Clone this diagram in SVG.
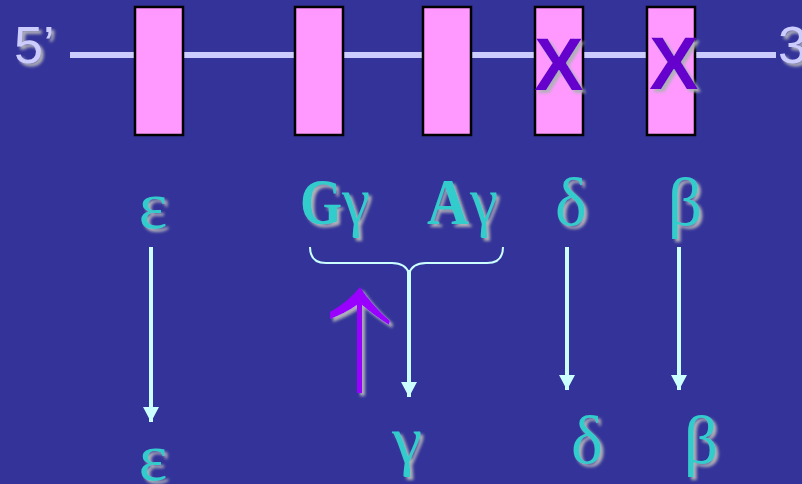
<svg xmlns="http://www.w3.org/2000/svg" width="802" height="484" viewBox="0 0 802 484">
<defs>
<filter id="sh" x="-20%" y="-20%" width="150%" height="150%">
<feGaussianBlur in="SourceAlpha" stdDeviation="1.5" result="b"/>
<feOffset in="b" dx="3" dy="3" result="o"/>
<feFlood flood-color="#b0b0b8"/>
<feComposite in2="o" operator="in" result="s"/>
<feMerge><feMergeNode in="s"/><feMergeNode in="SourceGraphic"/></feMerge>
</filter>
<marker id="ah" markerWidth="16" markerHeight="16" viewBox="0 0 16 16" refX="15" refY="8" orient="auto" markerUnits="userSpaceOnUse">
<path d="M0,0 L15,8 L0,16 Z" fill="#ccffff"/>
</marker>
<style>
.exon{fill:#ff99ff;stroke:#000;stroke-width:2.5}
.end{font-family:"Liberation Sans",Arial,sans-serif;font-size:52px;fill:#ccccff}
.x{font-family:"Liberation Sans",Arial,sans-serif;font-size:74px;font-weight:bold;fill:#6600cc}
.gr{font-family:"Liberation Serif","Times New Roman",serif;font-size:68px;fill:#33cccc}
.cap{font-weight:bold;font-size:65px}
.conn{stroke:#ccffff;stroke-width:4;fill:none}
</style>
</defs>
<rect width="802" height="484" fill="#333399"/>
<g id="dna">
<line x1="70" y1="55" x2="776" y2="55" stroke="#ccccff" stroke-width="6"/>
<text class="end" x="14" y="63" filter="url(#sh)">5’</text>
<text class="end" x="778" y="63" filter="url(#sh)">3’</text>
</g>
<g id="exon-epsilon"><rect class="exon" x="135" y="7" width="48" height="128"/></g>
<g id="exon-Ggamma"><rect class="exon" x="295" y="7" width="48" height="128"/></g>
<g id="exon-Agamma"><rect class="exon" x="423" y="7" width="48" height="128"/></g>
<g id="exon-delta"><rect class="exon" x="535" y="7" width="48" height="128"/>
<text class="x" x="559" y="90" text-anchor="middle" filter="url(#sh)">X</text></g>
<g id="exon-beta"><rect class="exon" x="647" y="7" width="48" height="128"/>
<text class="x" x="674" y="89" text-anchor="middle" filter="url(#sh)">X</text></g>
<g id="labels-top" filter="url(#sh)">
<text class="gr" x="153" y="228" text-anchor="middle">ε</text>
<text class="gr cap" x="300" y="224" textLength="42" lengthAdjust="spacingAndGlyphs">G</text>
<text class="gr" x="342" y="224" font-size="64" textLength="28" lengthAdjust="spacingAndGlyphs">γ</text>
<text class="gr cap" x="427" y="224" textLength="42" lengthAdjust="spacingAndGlyphs">A</text>
<text class="gr" x="470" y="224" font-size="64" textLength="28" lengthAdjust="spacingAndGlyphs">γ</text>
<text class="gr" x="571" y="225" text-anchor="middle">δ</text>
<text class="gr" x="685" y="225" text-anchor="middle">β</text>
</g>
<g id="labels-bottom" filter="url(#sh)">
<text class="gr" x="153" y="480" text-anchor="middle">ε</text>
<text class="gr" x="407" y="463" text-anchor="middle">γ</text>
<text class="gr" x="587" y="463" text-anchor="middle">δ</text>
<text class="gr" x="701" y="463" text-anchor="middle">β</text>
</g>
<g id="connectors">
<line class="conn" x1="151" y1="247" x2="151" y2="422" marker-end="url(#ah)"/>
<line class="conn" x1="409" y1="270" x2="409" y2="397" marker-end="url(#ah)"/>
<line class="conn" x1="567" y1="247" x2="567" y2="390" marker-end="url(#ah)"/>
<line class="conn" x1="679" y1="247" x2="679" y2="390" marker-end="url(#ah)"/>
<path d="M310,247 Q310,263 326,263 L392,263 Q406,263 409,274 Q412,263 426,263 L487,263 Q503,263 503,247" stroke="#ccffff" stroke-width="2" fill="none"/>
</g>
<g id="up-arrow" filter="url(#sh)">
<line x1="359.5" y1="393" x2="359.5" y2="303" stroke="#9900ff" stroke-width="5"/>
<path d="M360,287 Q372,305 390,321 L389,325 Q372,314 362,305 L357,305 Q346,313 330,319 L330,312 Q348,302 360,287 Z" fill="#9900ff"/>
</g>
</svg>
